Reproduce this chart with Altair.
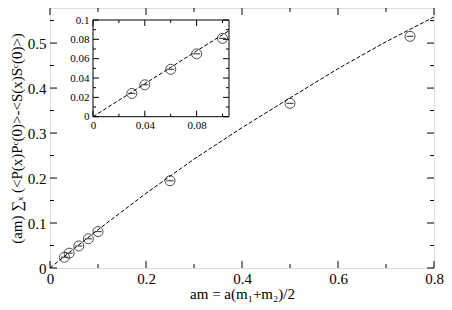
import altair as alt
import pandas as pd

# ---- data ----
am = [0.03, 0.04, 0.06, 0.08, 0.10, 0.25, 0.50, 0.75]
corr = [0.024, 0.033, 0.049, 0.065, 0.081, 0.194, 0.366, 0.515]

fit_am = [0.0, 0.05, 0.1, 0.2, 0.3, 0.4, 0.5, 0.6, 0.7, 0.8]
fit_corr = [0.0, 0.043, 0.085, 0.166, 0.242, 0.312, 0.378, 0.443, 0.503, 0.558]

inset_am = am[:5]
inset_corr = corr[:5]
inset_fit_am = [0.0, 0.02, 0.04, 0.06, 0.08, 0.1, 0.105]
inset_fit_corr = [0.0, 0.017, 0.034, 0.051, 0.068, 0.0847, 0.0889]

main_x_major = [0, 0.2, 0.4, 0.6, 0.8]
main_x_minor = [0.1, 0.3, 0.5, 0.7]
main_y_major = [0, 0.1, 0.2, 0.3, 0.4, 0.5]
main_y_minor = [0.05, 0.15, 0.25, 0.35, 0.45, 0.55]
inset_x_major = [0, 0.04, 0.08]
inset_x_minor = [0.02, 0.06, 0.1]
inset_y_major = [0, 0.02, 0.04, 0.06, 0.08, 0.1]
inset_y_minor = [0.01, 0.03, 0.05, 0.07, 0.09]

x_title = "am = a(m\u2081+m\u2082)/2"
y_title = "(am) \u2211\u2093 (<P(x)P\u1d9c(0)>-<S(x)S\u1d9c(0)>)"

# ---- layout ----
W, H = 384, 260
PL, PT, PR, PB = 42, 0, 10, 34
FONT = "Liberation Serif"
IL, IR, IT, IB = 43, 179, 12, 108.7  # inset box in plot coords

xs = alt.Scale(domain=[0, 0.8], nice=False, zero=False)
ys = alt.Scale(domain=[0, 0.578], nice=False, zero=False)
ixs = alt.Scale(domain=[0, 0.105], range=[IL, IR], nice=False, zero=False)
iys = alt.Scale(domain=[0, 0.1], range=[IB, IT], nice=False, zero=False)

ax_x = alt.Axis(values=main_x_major, ticks=False, domain=False, grid=False,
                format="~g", labelFlush=False, labelFont=FONT, labelFontSize=15,
                labelColor="black", labelPadding=3, title=x_title, titleFont=FONT,
                titleFontSize=15, titleFontWeight="normal", titleColor="black",
                titlePadding=0)
ax_y = alt.Axis(values=main_y_major, ticks=False, domain=False, grid=False,
                format="~g", labelFont=FONT, labelFontSize=15, labelColor="black",
                labelPadding=4, title=y_title, titleFont=FONT, titleFontSize=15,
                titleFontWeight="normal", titleColor="black", titlePadding=3)

def mx(field):
    return alt.X(field, type="quantitative", scale=xs, axis=ax_x)

def my(field):
    return alt.Y(field, type="quantitative", scale=ys, axis=ax_y)

pts = pd.DataFrame({"am": am, "corr": corr})
fit = pd.DataFrame({"am": fit_am, "corr": fit_corr})

main_fit = alt.Chart(fit).mark_line(color="black", strokeWidth=1, strokeDash=[4, 2]).encode(
    x=mx("am"), y=my("corr"))
main_pts = alt.Chart(pts).mark_point(shape="circle", filled=False, size=100,
                                     color="black", strokeWidth=1).encode(
    x=mx("am"), y=my("corr"))
main_err = alt.Chart(pts).mark_tick(orient="horizontal", size=7, thickness=1.2,
                                    color="black").encode(x=mx("am"), y=my("corr"))

def xticks(vals, L, scale_fn, bottom, top):
    d = pd.DataFrame({"v": vals})
    b = alt.Chart(d).mark_rule(color="black", strokeWidth=1).encode(
        x=scale_fn("v"), y=alt.value(bottom), y2=alt.value(bottom - L))
    t = alt.Chart(d).mark_rule(color="black", strokeWidth=1).encode(
        x=scale_fn("v"), y=alt.value(top), y2=alt.value(top + L))
    return [b, t]

def yticks(vals, L, scale_fn, left, right):
    d = pd.DataFrame({"v": vals})
    l = alt.Chart(d).mark_rule(color="black", strokeWidth=1).encode(
        y=scale_fn("v"), x=alt.value(left), x2=alt.value(left + L))
    r = alt.Chart(d).mark_rule(color="black", strokeWidth=1).encode(
        y=scale_fn("v"), x=alt.value(right), x2=alt.value(right - L))
    return [l, r]

main_layers = [main_fit, main_pts, main_err]
main_layers += xticks(main_x_major, 7, mx, H, 0)
main_layers += xticks(main_x_minor, 4, mx, H, 0)
main_layers += yticks(main_y_major, 7, my, 0, W)
main_layers += yticks(main_y_minor, 4, my, 0, W)
main = alt.layer(*main_layers)

# ---- inset ----
iax_x = alt.Axis(orient="bottom", offset=IB - H, values=inset_x_major, ticks=False,
                 domain=False, grid=False, format="~g", labelFlush=False,
                 labelFont=FONT, labelFontSize=11, labelColor="black",
                 labelPadding=3, title=None)
iax_y = alt.Axis(orient="left", offset=-IL, values=inset_y_major, ticks=False,
                 domain=False, grid=False, format="~g", labelFlush=False,
                 labelFont=FONT, labelFontSize=11, labelColor="black",
                 labelPadding=4, title=None)

def ix(field):
    return alt.X(field, type="quantitative", scale=ixs, axis=iax_x)

def iy(field):
    return alt.Y(field, type="quantitative", scale=iys, axis=iax_y)

one = pd.DataFrame({"a": [0]})
inset_box = alt.Chart(one).mark_rect(fill="white", stroke="black", strokeWidth=1).encode(
    x=alt.value(IL), x2=alt.value(IR), y=alt.value(IT), y2=alt.value(IB))
ipts = pd.DataFrame({"am": inset_am, "corr": inset_corr})
ifit = pd.DataFrame({"am": inset_fit_am, "corr": inset_fit_corr})
inset_fit = alt.Chart(ifit).mark_line(color="black", strokeWidth=1, strokeDash=[4, 2]).encode(
    x=ix("am"), y=iy("corr"))
inset_pts = alt.Chart(ipts).mark_point(shape="circle", filled=False, size=100,
                                       color="black", strokeWidth=1).encode(
    x=ix("am"), y=iy("corr"))
inset_err = alt.Chart(ipts).mark_tick(orient="horizontal", size=7, thickness=1.2,
                                      color="black").encode(x=ix("am"), y=iy("corr"))

inset_layers = [inset_box, inset_fit, inset_pts, inset_err]
inset_layers += xticks(inset_x_major, 6, ix, IB, IT)
inset_layers += xticks(inset_x_minor, 3, ix, IB, IT)
inset_layers += yticks(inset_y_major, 6, iy, IL, IR)
inset_layers += yticks(inset_y_minor, 3, iy, IL, IR)
inset = alt.layer(*inset_layers)

chart = alt.layer(main, inset).resolve_scale(
    x="independent", y="independent"
).resolve_axis(
    x="independent", y="independent"
).properties(
    width=W, height=H,
    autosize=alt.AutoSizeParams(type="none"),
    padding={"left": PL, "top": PT, "right": PR, "bottom": PB},
).configure_view(
    stroke="black", strokeWidth=1.5
).configure(background="white")

chart.save("out.html", embed_options={"renderer": "svg", "actions": False})
